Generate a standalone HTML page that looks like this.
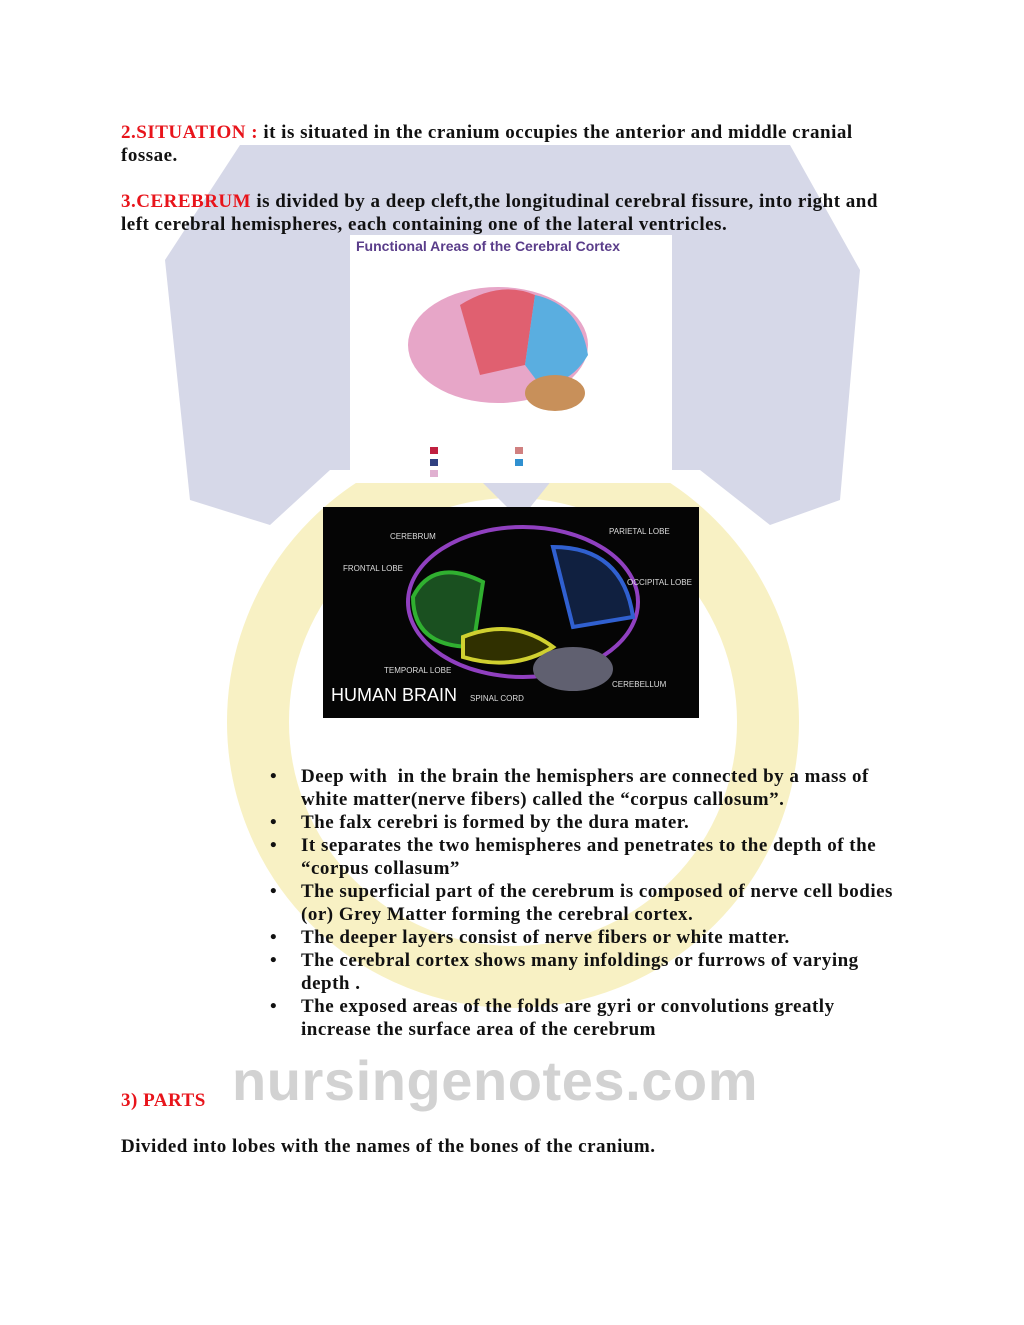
<!DOCTYPE html>
<html><head><meta charset="utf-8"><style>
body{margin:0;width:1024px;height:1325px;background:#fff;position:relative;overflow:hidden;font-family:"Liberation Serif",serif;font-weight:bold;font-size:19px;color:#111;letter-spacing:0.5px}
.t{position:absolute;white-space:nowrap;line-height:23px}
.r{color:#e8141b}
ul{position:absolute;left:270px;top:765px;margin:0;padding:0;list-style:none}
li{position:relative;padding-left:31px;line-height:23px;white-space:nowrap}
li:before{content:"•";position:absolute;left:0}
</style></head><body>
<svg width="1024" height="1325" style="position:absolute;left:0;top:0">
<circle cx="513" cy="722" r="255" fill="none" stroke="#f8f1c4" stroke-width="62"/>
<path d="M240 145 L790 145 L860 270 L840 500 L770 525 L700 470 L560 470 L520 520 L470 470 L330 470 L270 525 L190 500 L165 260 Z" fill="#d6d8e8"/>
<text x="232" y="1100" font-family="Liberation Sans,sans-serif" font-size="56" fill="#d2d2d2" font-weight="bold" textLength="526">nursingenotes.com</text>
</svg>
<div class="t" style="left:121px;top:121px"><span class="r">2.SITUATION : </span>it is situated in the cranium occupies the anterior and middle cranial</div>
<div class="t" style="left:121px;top:144px">fossae.</div>
<div class="t" style="left:121px;top:190px"><span class="r">3.CEREBRUM</span> is divided by a deep cleft,the longitudinal cerebral fissure, into right and</div>
<div class="t" style="left:121px;top:213px">left cerebral hemispheres, each containing one of the lateral ventricles.</div>
<div style="position:absolute;left:350px;top:235px;width:322px;height:248px;background:#fff;letter-spacing:0">
<div style="font-family:'Liberation Sans',sans-serif;font-size:14px;color:#5a3d8a;position:absolute;left:6px;top:3px;font-weight:bold">Functional Areas of the Cerebral Cortex</div>
<svg width="322" height="248" style="position:absolute;left:0;top:0">
<ellipse cx="148" cy="110" rx="90" ry="58" fill="#e7a6c8"/>
<path d="M110 70 Q150 45 185 60 L175 130 L130 140 Z" fill="#e06070"/>
<path d="M185 60 Q230 70 238 120 Q220 150 190 150 L175 130 Z" fill="#5aaee0"/>
<ellipse cx="205" cy="158" rx="30" ry="18" fill="#c8905a"/>
<rect x="80" y="212" width="8" height="7" fill="#c02040"/><rect x="165" y="212" width="8" height="7" fill="#d08080"/>
<rect x="80" y="224" width="8" height="7" fill="#304080"/><rect x="165" y="224" width="8" height="7" fill="#3090d0"/>
<rect x="80" y="235" width="8" height="7" fill="#e0b0d0"/>
</svg></div>
<div style="position:absolute;left:323px;top:507px;width:376px;height:211px;background:#050505;font-family:'Liberation Sans',sans-serif;color:#ddd;letter-spacing:0;font-weight:normal">
<svg width="376" height="211" style="position:absolute;left:0;top:0">
<ellipse cx="200" cy="95" rx="115" ry="75" fill="none" stroke="#9040c0" stroke-width="4"/>
<path d="M90 90 Q110 50 160 75 L150 140 Q90 140 90 90Z" fill="#1a5020" stroke="#30b030" stroke-width="4"/>
<path d="M230 40 Q300 40 310 110 L250 120 Z" fill="#102040" stroke="#3060d0" stroke-width="4"/>
<path d="M140 130 Q190 110 230 140 Q190 165 140 150Z" fill="#303000" stroke="#d0d030" stroke-width="4"/>
<ellipse cx="250" cy="162" rx="40" ry="22" fill="#606070"/>
</svg>
<div style="position:absolute;left:8px;top:178px;font-size:18px;color:#fff">HUMAN BRAIN</div>
<div style="position:absolute;left:67px;top:25px;font-size:8px">CEREBRUM</div>
<div style="position:absolute;left:20px;top:57px;font-size:8px">FRONTAL LOBE</div>
<div style="position:absolute;left:286px;top:20px;font-size:8px">PARIETAL LOBE</div>
<div style="position:absolute;left:304px;top:71px;font-size:8px">OCCIPITAL LOBE</div>
<div style="position:absolute;left:61px;top:159px;font-size:8px">TEMPORAL LOBE</div>
<div style="position:absolute;left:147px;top:187px;font-size:8px">SPINAL CORD</div>
<div style="position:absolute;left:289px;top:173px;font-size:8px">CEREBELLUM</div>
</div>
<ul>
<li>Deep with &nbsp;in the brain the hemisphers are connected by a mass of<br>white matter(nerve fibers) called the “corpus callosum”.</li>
<li>The falx cerebri is formed by the dura mater.</li>
<li>It separates the two hemispheres and penetrates to the depth of the<br>“corpus collasum”</li>
<li>The superficial part of the cerebrum is composed of nerve cell bodies<br>(or) Grey Matter forming the cerebral cortex.</li>
<li>The deeper layers consist of nerve fibers or white matter.</li>
<li>The cerebral cortex shows many infoldings or furrows of varying<br>depth .</li>
<li>The exposed areas of the folds are gyri or convolutions greatly<br>increase the surface area of the cerebrum</li>
</ul>
<div class="t r" style="left:121px;top:1089px">3) PARTS</div>
<div class="t" style="left:121px;top:1135px">Divided into lobes with the names of the bones of the cranium.</div>
</body></html>
